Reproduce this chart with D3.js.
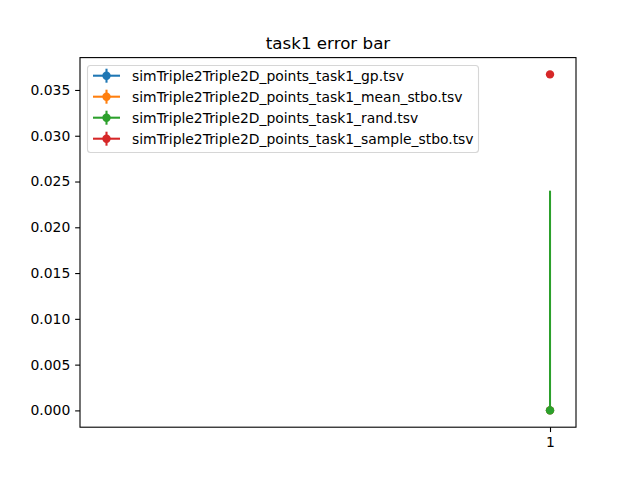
<!DOCTYPE html>
<html><head><meta charset="utf-8">
<script src="https://cdn.jsdelivr.net/npm/d3@7"></script>
<style>body{margin:0;background:#fff}</style>
</head><body>
<svg id="c" width="640" height="480"></svg>
<script>
const seriesNames = ["simTriple2Triple2D_points_task1_gp.tsv","simTriple2Triple2D_points_task1_mean_stbo.tsv","simTriple2Triple2D_points_task1_rand.tsv","simTriple2Triple2D_points_task1_sample_stbo.tsv"];
const colors = ["#1f77b4","#ff7f0e","#2ca02c","#d62728"];
const xValues = [1,1,1,1];
const yValues = [0,0,0,0.0367];
const yErrLow = [0,0,0,0];
const yErrHigh = [0,0,0.024,0];
const yTicks = [0,0.005,0.010,0.015,0.020,0.025,0.030,0.035];
const xTicks = [1];

const svg = d3.select("#c");
const L=80,R=576,T=57.6,B=427.2;
const font = "DejaVu Sans, sans-serif";
const x = d3.scaleLinear().domain([0.0524,1.0524]).range([L,R]);
const y = d3.scaleLinear().domain([-0.001835,0.038535]).range([B,T]);

svg.append("rect").attr("width",640).attr("height",480).attr("fill","#fff");

// data
const g = svg.append("g");
seriesNames.forEach((n,i)=>{
  const xv=x(xValues[i]);
  if (yErrLow[i]>0||yErrHigh[i]>0){
    g.append("line").attr("x1",xv).attr("x2",xv)
      .attr("y1",y(yValues[i]-yErrLow[i])).attr("y2",y(yValues[i]+yErrHigh[i]))
      .attr("stroke",colors[i]).attr("stroke-width",2.08);
  }
  g.append("circle").attr("cx",xv).attr("cy",y(yValues[i])).attr("r",4.2).attr("fill",colors[i]);
});

// axes
const ya = svg.append("g").attr("transform",`translate(${L},0)`)
  .call(d3.axisLeft(y).tickValues(yTicks).tickFormat(d3.format(".3f")).tickSize(4.86).tickPadding(4.86));
const xa = svg.append("g").attr("transform",`translate(0,${B})`)
  .call(d3.axisBottom(x).tickValues(xTicks).tickFormat(d3.format("d")).tickSize(4.86).tickPadding(4.86));
[ya,xa].forEach(a=>{
  a.select(".domain").remove();
  a.selectAll("line").attr("stroke","#000").attr("stroke-width",1.1);
  a.selectAll("text").attr("font-family",font).attr("font-size",13.9).attr("fill","#000");
});
svg.append("rect").attr("x",L).attr("y",T).attr("width",R-L).attr("height",B-T)
  .attr("fill","none").attr("stroke","#000").attr("stroke-width",1.1);

// title
svg.append("text").attr("x",(L+R)/2).attr("y",49).attr("text-anchor","middle")
  .attr("font-family",font).attr("font-size",16.7).text("task1 error bar");

// legend
const lg = svg.append("g");
lg.append("rect").attr("x",87.5).attr("y",65.5).attr("width",391).attr("height",87).attr("rx",3)
  .attr("fill","#fff").attr("fill-opacity",0.8).attr("stroke","#d6d6d6").attr("stroke-width",1.1);
seriesNames.forEach((n,i)=>{
  const cy = 75.7 + i*21;
  lg.append("line").attr("x1",93).attr("x2",120).attr("y1",cy).attr("y2",cy).attr("stroke",colors[i]).attr("stroke-width",2.08);
  lg.append("line").attr("x1",106.5).attr("x2",106.5).attr("y1",cy-7).attr("y2",cy+7).attr("stroke",colors[i]).attr("stroke-width",2.08);
  lg.append("circle").attr("cx",106.5).attr("cy",cy).attr("r",4.2).attr("fill",colors[i]);
  lg.append("text").attr("x",132).attr("y",cy+5).attr("font-family",font).attr("font-size",13.9).text(n);
});
</script>
</body></html>
